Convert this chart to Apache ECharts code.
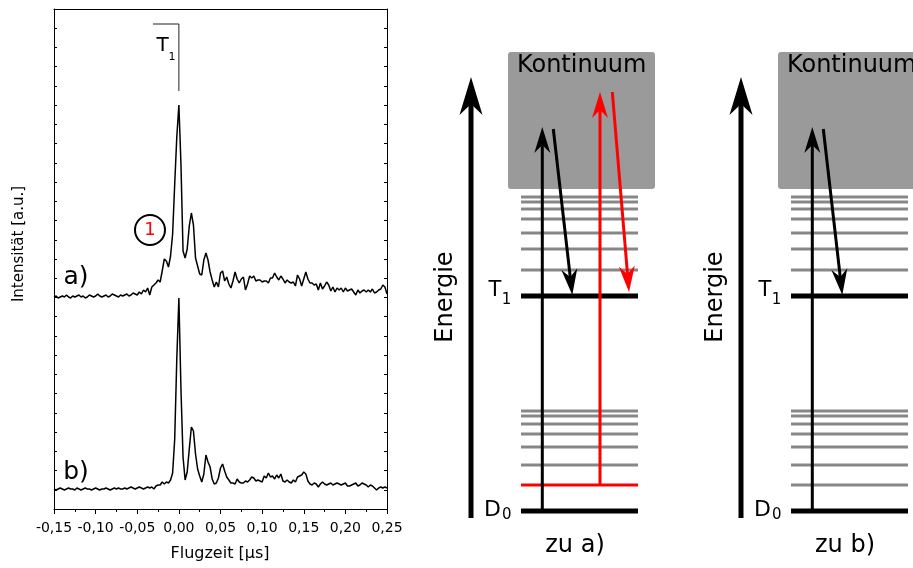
<!DOCTYPE html>
<html><head><meta charset="utf-8">
<script src="https://cdn.jsdelivr.net/npm/echarts@6/dist/echarts.min.js"></script>
<style>html,body{margin:0;padding:0;background:#fff}#c{width:913px;height:568px}</style>
</head><body><div id="c"></div>
<script>
// ===== Spectrum (left panel) =====
const timeStart = -0.15;   // µs, first sample
const timeStep = 0.0025;   // µs, sample spacing
const xTickValues = [-0.15, -0.10, -0.05, 0.00, 0.05, 0.10, 0.15, 0.20, 0.25];
const xTickLabels = ['-0,15', '-0,10', '-0,05', '0,00', '0,05', '0,10', '0,15', '0,20', '0,25'];
const intensityMax = 500;  // a.u. (offset-stacked)
const intensityTickCount = 26;

// spectrum a) (offset)
const intensityA = [
  212, 213, 211, 212, 213, 212, 214, 212, 211, 213,
  212, 213, 214, 212, 213, 211, 212, 214, 213, 212,
  213, 215, 213, 212, 213, 214, 212, 213, 215, 214,
  213, 212, 214, 213, 214, 215, 213, 214, 216, 215,
  214,
  217, 215, 219, 217, 221, 214, 222, 224,
  226, 229, 227, 238, 250, 248, 242, 253, 275, 325, 372,
  404,
  345, 258, 251, 260, 283, 296, 284, 251, 243, 235,
  234, 249, 256, 249, 237, 229, 222, 227, 222, 236,
  238, 228, 232, 225, 221, 228, 237, 230, 226, 230,
  232, 219, 225, 233, 231, 233, 228, 229, 229, 227,
  228, 228, 226, 231, 231, 236, 232, 229, 233, 230,
  226, 229, 227, 226, 227, 223, 234, 230, 223, 230,
  237, 230, 226, 226, 224, 225, 219, 226, 220, 223,
  227, 224, 218, 222, 217, 221, 219, 221, 217, 221,
  218, 219, 220, 217, 214, 219, 216, 218, 219, 217,
  219, 217, 220, 216, 217, 219, 220, 224, 222, 215
];
// spectrum b)
const intensityB = [
  20, 19, 20, 21, 20, 19, 20, 21, 20, 20,
  19, 21, 20, 19, 20, 21, 20, 20, 19, 20,
  21, 20, 19, 20, 20, 21, 20, 19, 20, 21,
  20, 21, 20, 20, 21, 20, 21, 22, 21, 20,
  21, 22, 21, 20, 21,
  22, 21, 22, 20, 23, 24, 24, 27, 25, 27, 26, 29, 36, 70, 150,
  211,
  120, 52, 29, 37, 60, 82, 78, 55, 40, 33,
  27, 35, 54, 47, 42, 30, 25, 26, 31, 41,
  45, 38, 32, 29, 26, 26, 25, 30, 27, 26,
  26, 28, 27, 29, 32, 31, 28, 29, 28, 27,
  33, 31, 36, 32, 33, 30, 34, 31, 35, 28,
  27, 29, 27, 26, 29, 27, 32, 33, 34, 37,
  35, 28, 25, 24, 26, 25, 22, 25, 27, 25,
  24, 25, 26, 24, 25, 26, 25, 24, 25, 26,
  23, 23, 24, 25, 26, 23, 24, 26, 25, 24,
  22, 24, 23, 21, 19, 21, 22, 21, 22, 21
];
// T1 assignment bracket and circled marker "1"
const t1MarkerTime = [-0.031, 0, 0];
const t1MarkerLevel = [485, 485, 418];
const circleMarkTime = [-0.0347];
const circleMarkLevel = [279];
const circleMarkText = ['1'];

// ===== Energy level diagrams (arbitrary units, D0 = 0) =====
const levelSpan = [61, 178];                 // horizontal extent of levels
const levelD0 = 0;
const levelT1 = 215;
const vibLow = [46, 64, 77, 87, 95, 100];     // gray levels above D0
const vibHigh = [241, 262, 278, 292, 302, 309, 314]; // gray levels above T1
const excitedLevel = 26;                     // red in a), gray in b)
const continuumSpan = [48, 195];
const continuumEnergy = [322, 459];
const energyAxisArrow = [11, -7, 11, 434];
const blackUp = [82.3, 0, 82.3, 384];
const blackDown = [93.3, 382, 112.3, 216];
const redUp = [140, 26, 140, 419];
const redDown = [152.3, 419, 169, 219];

const FONT = '"DejaVu Sans", Verdana, sans-serif';

function makeArrowRender(color, lw, L, W, N) {
  return function (params, api) {
    const p1 = api.coord([api.value(0), api.value(1)]);
    const p2 = api.coord([api.value(2), api.value(3)]);
    const dx = p2[0] - p1[0], dy = p2[1] - p1[1];
    const len = Math.hypot(dx, dy);
    const ux = dx / len, uy = dy / len;
    const nx = -uy, ny = ux;
    const base = [p2[0] - ux * L, p2[1] - uy * L];
    const notch = [p2[0] - ux * N, p2[1] - uy * N];
    return {
      type: 'group',
      children: [
        { type: 'line', shape: { x1: p1[0], y1: p1[1], x2: notch[0], y2: notch[1] }, style: { stroke: color, lineWidth: lw } },
        { type: 'polygon', shape: { points: [p2, [base[0] + nx * W, base[1] + ny * W], notch, [base[0] - nx * W, base[1] - ny * W]] }, style: { fill: color } }
      ]
    };
  };
}
function makeLevelRender(color, lw) {
  return function (params, api) {
    const a = api.coord([api.value(0), api.value(2)]);
    const b = api.coord([api.value(1), api.value(2)]);
    return { type: 'line', shape: { x1: a[0], y1: a[1], x2: b[0], y2: b[1] }, style: { stroke: color, lineWidth: lw } };
  };
}
function boxRender(params, api) {
  const a = api.coord([api.value(0), api.value(3)]);
  const b = api.coord([api.value(1), api.value(2)]);
  return { type: 'rect', shape: { x: a[0], y: a[1], width: b[0] - a[0], height: b[1] - a[1], r: 3 }, style: { fill: '#9a9a9a' } };
}
function levelItems(list) { return list.map(e => [levelSpan[0], levelSpan[1], e]); }

function diagramSeries(idx, withRed) {
  const ax = { xAxisIndex: 2 + idx, yAxisIndex: 2 + idx, type: 'custom', silent: true, clip: false };
  const s = [];
  s.push(Object.assign({}, ax, { name: 'continuum' + idx, renderItem: boxRender, data: [[continuumSpan[0], continuumSpan[1], continuumEnergy[0], continuumEnergy[1]]] }));
  const gray = vibLow.concat(vibHigh);
  if (!withRed) gray.push(excitedLevel);
  s.push(Object.assign({}, ax, { name: 'vib' + idx, renderItem: makeLevelRender('#878787', 3), data: levelItems(gray) }));
  if (withRed) s.push(Object.assign({}, ax, { name: 'red level', renderItem: makeLevelRender('#ff0000', 3), data: levelItems([excitedLevel]) }));
  s.push(Object.assign({}, ax, { name: 'main levels' + idx, renderItem: makeLevelRender('#000', 5), data: levelItems([levelD0, levelT1]) }));
  s.push(Object.assign({}, ax, { name: 'energy axis' + idx, renderItem: makeArrowRender('#000', 5, 38, 11.5, 27), data: [energyAxisArrow] }));
  s.push(Object.assign({}, ax, { name: 'black arrows' + idx, renderItem: makeArrowRender('#000', 3, 26, 8, 18), data: [blackUp, blackDown] }));
  if (withRed) s.push(Object.assign({}, ax, { name: 'red arrows', renderItem: makeArrowRender('#ff0000', 3, 26, 8, 18), data: [redUp, redDown] }));
  return s;
}

function txt(text, x, y, size, extra) {
  return Object.assign({ type: 'text', x: x, y: y, z: 100, silent: true,
    style: { text: text, fontSize: size, fontFamily: FONT, fill: (extra && extra.fill) || '#000', align: 'center', verticalAlign: 'middle' } },
    extra && extra.rotation ? { rotation: extra.rotation } : {});
}
const graphics = [
  txt('Intensität [a.u.]', 19, 244, 15, { rotation: Math.PI / 2 }),
  txt('Flugzeit [µs]', 220, 554, 16),
  txt('a)', 76, 277, 25),
  txt('b)', 76, 472, 25),
  txt('T', 162.5, 46, 20),
  txt('1', 172, 57, 11)
];
[0, 270].forEach((dx, k) => {
  graphics.push(txt('Kontinuum', 581.7 + dx, 66, 24));
  graphics.push(txt('Energie', 446 + dx, 297, 24, { rotation: Math.PI / 2 }));
  graphics.push(txt('T', 495 + dx, 291, 21));
  graphics.push(txt('1', 506.5 + dx, 300, 15));
  graphics.push(txt('D', 492.5 + dx, 510, 22));
  graphics.push(txt('0', 506.7 + dx, 515, 15));
  graphics.push(txt(k === 0 ? 'zu a)' : 'zu b)', 575 + dx, 546, 24));
});

const axisLineBlack = { show: true, onZero: false, lineStyle: { color: '#000', width: 1 } };
const yTicks = { show: true, inside: true, length: 3, lineStyle: { color: '#000' } };
const option = {
  animation: false,
  backgroundColor: '#fff',
  textStyle: { fontFamily: FONT },
  grid: [
    { left: 54, top: 9, width: 333, height: 500 },
    { left: 460, top: 31, width: 200, height: 500 },
    { left: 730, top: 31, width: 183, height: 500 }
  ],
  xAxis: [
    { type: 'value', gridIndex: 0, min: -0.15, max: 0.25, interval: 0.05, position: 'bottom',
      axisLine: axisLineBlack, axisTick: { show: true, length: 5, lineStyle: { color: '#000' } },
      minorTick: { show: true, splitNumber: 2, length: 3, lineStyle: { color: '#000' } },
      splitLine: { show: false },
      axisLabel: { margin: 12, fontSize: 14, color: '#000', fontFamily: FONT,
        formatter: v => { let i = Math.round((v - xTickValues[0]) / 0.05); return xTickLabels[i] || ''; } } },
    { type: 'value', gridIndex: 0, min: -0.15, max: 0.25, position: 'top',
      axisLine: axisLineBlack, axisTick: { show: false }, axisLabel: { show: false }, splitLine: { show: false } },
    { type: 'value', gridIndex: 1, min: 0, max: 200, show: false },
    { type: 'value', gridIndex: 2, min: 0, max: 183, show: false }
  ],
  yAxis: [
    { type: 'value', gridIndex: 0, min: 0, max: intensityMax, interval: intensityMax / intensityTickCount, position: 'left',
      axisLine: axisLineBlack, axisTick: yTicks, axisLabel: { show: false }, splitLine: { show: false } },
    { type: 'value', gridIndex: 0, min: 0, max: intensityMax, interval: intensityMax / intensityTickCount, position: 'right',
      axisLine: axisLineBlack, axisTick: yTicks, axisLabel: { show: false }, splitLine: { show: false } },
    { type: 'value', gridIndex: 1, min: -20, max: 480, show: false },
    { type: 'value', gridIndex: 2, min: -20, max: 480, show: false }
  ],
  graphic: graphics,
  series: [
    { name: 'a)', type: 'line', xAxisIndex: 0, yAxisIndex: 0, showSymbol: false, silent: true,
      lineStyle: { color: '#000', width: 1.5 }, data: intensityA.map((v, i) => [timeStart + i * timeStep, v]) },
    { name: 'b)', type: 'line', xAxisIndex: 0, yAxisIndex: 0, showSymbol: false, silent: true,
      lineStyle: { color: '#000', width: 1.5 }, data: intensityB.map((v, i) => [timeStart + i * timeStep, v]) },
    { name: 'T1', type: 'line', xAxisIndex: 0, yAxisIndex: 0, showSymbol: false, silent: true,
      lineStyle: { color: '#222', width: 1 }, data: t1MarkerTime.map((t, i) => [t, t1MarkerLevel[i]]) },
    { name: 'marker', type: 'scatter', xAxisIndex: 0, yAxisIndex: 0, silent: true, symbol: 'circle', symbolSize: 30,
      itemStyle: { color: 'rgba(0,0,0,0)', borderColor: '#000', borderWidth: 2, opacity: 1 },
      label: { show: true, position: 'inside', formatter: p => circleMarkText[p.dataIndex], color: '#ff0000', fontSize: 18, fontFamily: FONT },
      data: circleMarkTime.map((t, i) => [t, circleMarkLevel[i]]) }
  ].concat(diagramSeries(0, true), diagramSeries(1, false))
};
const chart = echarts.init(document.getElementById('c'), null, { renderer: 'canvas' });
chart.setOption(option);
</script></body></html>
